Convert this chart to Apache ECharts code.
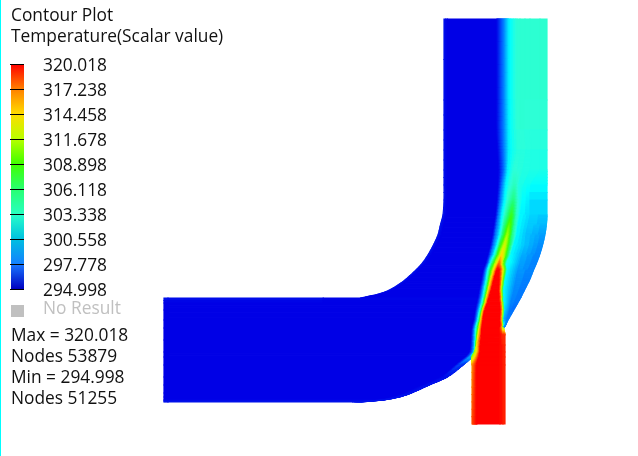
<!DOCTYPE html>
<html><head><meta charset="utf-8">
<style>html,body{margin:0;padding:0;background:#fff}#c{width:638px;height:456px}</style>
<script src="https://cdn.jsdelivr.net/npm/echarts@6/dist/echarts.min.js"></script>
</head><body><div id="c"></div>
<script>
const titleLines = ['Contour Plot', 'Temperature(Scalar value)'];
const tickLabels = ['294.998','297.778','300.558','303.338','306.118','308.898','311.678','314.458','317.238','320.018'];
const statLines = ['Max = 320.018','Nodes 53879','Min = 294.998','Nodes 51255'];
const noResultLabel = 'No Result';

// temperature -> colour
const scaleT = [294.998,297.778,300.558,302,303.338,306.118,308.898,311.678,314.458,317.238,320.018];
const scaleC = ['#0000e6','#0060ff','#00c8ff','#00ffff','#2dffd8','#20ff70','#40ff00','#b8ff00','#ffe000','#ff7000','#ff0000'];
// legend bar colours, bottom to top, in pairs per segment
const barC = ['#0000c0','#1878ff','#1480ff','#00c0e0','#00c0e0','#28ffc8','#28ffc0','#28ff70','#28ff70','#40ff00','#40ff00','#b8ff00','#b8ff00','#ffdc00','#ffdc00','#ff8000','#ff8000','#ff0000'];

// main duct: stations down the picture, 12 knots across each
const rowY = [19,100,130,150,170,185,200,215,225,235,245,255,263,270,280,285,290,294,297,298,298,303,310,320,328,340,352,357,365,377,385,393,397,400,402];
const rowX = [
[444,447.5,497,504,509,512,517,520,525,530,540,547],
[444,447.5,497,504,509,512,517,520,525,530,540,547],
[444,447.5,497,504,509,512,517,520,525,530,540,547],
[444,447.5,498,504,509,513,517,521,526,531,540,547],
[444,447.5,499,504,508,511,514,518,523,530,540,547],
[444,447.5,498.5,502,506,509,514,516,519,524,531,547],
[444,447.5,497.5,500.5,504.5,507.5,513,514.5,518.5,522.5,530,547],
[443,446.5,496,498.5,502,505.5,511,512.5,516.5,520.5,530,547],
[440.5,444,494.5,497,501,504,509,510.5,514.5,518.5,528,546.3],
[438,441.5,493,495.5,499.5,502.5,507,508.5,512.5,517,526,544.8],
[433.5,437,491,493.5,497,500,504.5,505.5,510,514,525,542.5],
[428,431.5,488.5,491,494,497.5,501.5,502.5,507,511,522,539.5],
[422.5,426,486.5,489.5,492,495.5,499,500.5,503.5,507,520,536.5],
[416,419.5,484,488,491,494,497,500,503.5,507.5,518,533.5],
[405,408.5,482,486.5,489,491,494,500,502.5,505.5,516,529.5],
[398,401.5,481,485.5,488,489.8,492.8,499.8,502,504.8,515,527],
[389.5,393,480,484.5,487,488.5,491.5,499.5,501.5,504,514,524.5],
[379,382.5,479.3,483.8,486,487.5,490.2,499.8,501.8,504,513,522.5],
[365,368.5,478.7,483.2,485.3,486.8,489.3,500,502,504,512.2,521],
[360,363.5,478.5,483,485,486.5,489,500,502,504,512,520.5],
[164,168,478.5,483,485,486.5,489,500,502,504,512,520.5],
[164,168,477.5,482,484,485.5,487.5,500.5,502.5,504.5,511,517.7],
[164,168,476,480,482,483,485,501,503,505,510,513.7],
[164,168,474.5,478,480,481,483,500.5,502.5,504,507,508],
[164,168,472.5,476,478,479.5,482,500,502,503,503.3,503.5],
[164,168,471.5,475.5,476.5,477.5,481,483,485,486,488,490],
[164,168,470,474,475,475.5,475.8,476,476.2,476.4,476.7,477],
[164,168,466,470,471,471.5,471.6,471.7,471.8,471.9,472,472],
[164,168,456,459,461,461.5,462,462.2,462.4,462.6,462.8,463],
[164,168,441,443,444,445,445.5,446,446.2,446.5,446.8,447],
[164,168,423,425,426,427,427.5,428,428.2,428.5,428.8,429],
[164,168,405,407,408,409,409.5,410,410.2,410.5,410.8,411],
[164,168,393,395,396,397,397.5,398,398.2,398.5,398.8,399],
[164,168,378,380,381,382,382.5,383,383.2,383.5,383.8,384],
[164,168,352,354,355,356,357,358,359,360,361,362]
];
const blueEdge = [295,295,295,295.2,295.3,295.4,295.5,295.5,295.5,295.5,295.5,295.5];
const rowT = [
[295.6,295,295,298.5,301.5,302.3,303.4,303.5,303.5,303.5,303.5,303.6],
[295.6,295,295,298.5,301.5,302.3,303.4,303.5,303.5,303.5,303.5,303.6],
[295.6,295,295,298.5,301.5,302.3,303.3,303.5,303.4,303.3,303.3,303.3],
[295.6,295,295,298.3,301.5,302.5,303,303.2,303,303,303,303],
[295.6,295,295,298,301.5,302.5,303.3,303.3,303,302.9,302.8,302.8],
[295.6,295,295,298,301.5,302.8,304,304,303,302.6,302.2,302],
[295.6,295,295,298,301.5,303.3,305.5,305.5,303.3,302.2,301.5,301],
[295.6,295,295,298,301.5,304,308,308,304,302,301,300.5],
[295.6,295,295,298,301.5,304.8,309.5,309.5,305,302,300.8,300],
[295.6,295,295,298,301.5,305.5,311,311,305.5,302,300.5,299.3],
[295.6,295,295,298,301.5,307,312.5,312.5,307,302,300.5,298.8],
[295.6,295,295,298,301.5,308,314.5,314.5,308,302,300,298.6],
[295.6,295,295,300,304.5,311,317,317,311,303,299.7,298.5],
[295.6,295,295,302,308,314,320,320,314,302,299.5,298.5],
[295.6,295,295,302,308,314,320,320,314,302,299.2,298.4],
[295.6,295,295,302,308,314,320,320,314,302,299.1,298.4],
[295.6,295,295,302,308,314,320,320,314,302,299,298.3],
[295.6,295,295,302,308,314,320,320,314,302,299,298.3],
[295.6,295,295,302,308,314,320,320,314,302,298.9,298.3],
[295.6,295,295,302,308,314,320,320,314,302,298.9,298.3],
[295.6,295.6,295,302,308,314,320,320,314,302,298.9,298.3],
[295,295,295,302,308,314,320,320,314,302,298.8,298.2],
[295,295,295,302,308,314,320,320,314,301,298.5,298],
[295,295,295,302,308,314,320,320,314,300,298.5,298.5],
[295,295,295,302,308,314,320,320,314,305,300,298.5],
[295,295,295,302,308,314,320,320,320,320,320,320],
[295,295,295,301,308,310,318,318,318,318,318,318],
[295,295,295,300,300,300,300,300,300,300,300,300],
[295,295,295,297,297,297,297,296.5,296.5,296.5,296.5,296.5],
blueEdge,blueEdge,blueEdge,blueEdge,blueEdge,
[295.6,295.6,295.6,295.6,295.6,295.6,295.6,295.6,295.6,295.6,295.6,295.6]
];

// side inlet: stations down the picture, 5 knots across
const jetY = [328,335,345,352,357,365,424];
const jetX = [
[482,482.5,500,503,503.5],
[481.5,482,500,503,505],
[477,480.5,500,503,505],
[474.5,480,500,503,505],
[472,479,500,503,505],
[472,477,500,503,505],
[472,477,500,503,505]
];
const jetT = [
[320,320,320,314,310],
[320,320,320,319,318.5],
[314,320,320,319.5,319],
[310,320,320,319.5,319],
[310,320,320,319.5,319],
[316,320,320,319.5,319],
[318,320,320,319.5,319]
];

function colorOf(t){
  if(t<=scaleT[0]) return scaleC[0];
  for(let i=1;i<scaleT.length;i++){
    if(t<=scaleT[i]){
      const f=(t-scaleT[i-1])/(scaleT[i]-scaleT[i-1]);
      return echarts.color.lerp(f,[scaleC[i-1],scaleC[i]]);
    }
  }
  return scaleC[scaleC.length-1];
}
function fieldSeries(y,X,T){
  const data=[];
  for(let r=0;r<y.length-1;r++) for(let j=0;j<X[0].length-1;j++) data.push([r,j]);
  // slope of a knot line along the duct, so walls and isotherms draw as curves
  const slope=(r,j)=>{
    const n=y.length-1;
    const back=r>0&&y[r-1]!==y[r], fwd=r<n&&y[r+1]!==y[r];
    if(back&&fwd) return (X[r+1][j]-X[r-1][j])/(y[r+1]-y[r-1]);
    if(fwd) return (X[r+1][j]-X[r][j])/(y[r+1]-y[r]);
    if(back) return (X[r][j]-X[r-1][j])/(y[r]-y[r-1]);
    return 0;
  };
  const xAt=(r,j,v)=>{
    const h=y[r+1]-y[r],x0=X[r][j],x1=X[r+1][j],m0=slope(r,j)*h,m1=slope(r+1,j)*h;
    const v2=v*v,v3=v2*v;
    return (2*v3-3*v2+1)*x0+(v3-2*v2+v)*m0+(-2*v3+3*v2)*x1+(v3-v2)*m1;
  };
  return {
    type:'custom',coordinateSystem:'cartesian2d',xAxisIndex:0,yAxisIndex:0,
    silent:true,animation:false,clip:false,progressive:0,
    encode:{x:[],y:[]},data,
    renderItem(params,api){
      const r=api.value(0),j=api.value(1);
      const y0=y[r],y1=y[r+1];
      if(y0===y1) return {type:'group',children:[]};
      const x00=X[r][j],x10=X[r][j+1],x01=X[r+1][j],x11=X[r+1][j+1];
      const t00=T[r][j],t10=T[r][j+1],t01=T[r+1][j],t11=T[r+1][j+1];
      const dU=Math.max(Math.abs(t10-t00),Math.abs(t11-t01));
      const dV=Math.max(Math.abs(t01-t00),Math.abs(t11-t10));
      const w=Math.max(x10-x00,x11-x01),h=y1-y0;
      const curved=Math.abs(x01-x00)>1||Math.abs(x11-x10)>1;
      const nu=Math.min(Math.max(1,Math.ceil(dU/0.5)),Math.max(1,Math.ceil(w*1.5)),24);
      const nv=Math.min(Math.max(curved?Math.ceil(h/1.5):1,Math.ceil(Math.max(dV,dU>0.5?dU:0)/0.5)),Math.max(1,Math.ceil(h*1.5)),30);
      const P=(u,v)=>api.coord([(1-u)*xAt(r,j,v)+u*xAt(r,j+1,v),y0+(y1-y0)*v]);
      const children=[];
      for(let a=0;a<nv;a++) for(let b=0;b<nu;b++){
        const u0=b/nu,u1=(b+1)/nu,v0=a/nv,v1=(a+1)/nv,um=(u0+u1)/2,vm=(v0+v1)/2;
        const tm=(1-vm)*((1-um)*t00+um*t10)+vm*((1-um)*t01+um*t11);
        const c=colorOf(tm);
        children.push({type:'polygon',shape:{points:[P(u0,v0),P(u1,v0),P(u1,v1),P(u0,v1)]},
          style:{fill:c,stroke:c,lineWidth:1.2}});
      }
      return {type:'group',children};
    }
  };
}

const font='"Open Sans"', fontPx=17.33;
const textEl=(s,x,y,color)=>({type:'text',x,y,silent:true,style:{text:s,fill:color,font:fontPx+'px '+font,textVerticalAlign:'middle',textBaseline:'middle'}});
const titleY=[16,37], statY=[336,357,378,399];

const chart=echarts.init(document.getElementById('c'),null,{renderer:'canvas'});
chart.setOption({
  animation:false,backgroundColor:'#ffffff',
  grid:[
    {left:0,right:0,top:0,bottom:0,containLabel:false},
    {left:10,width:14,top:64,height:225,containLabel:false},
    {left:10,width:14,top:66,height:225,containLabel:false}
  ],
  xAxis:[
    {type:'value',gridIndex:0,min:0,max:638,show:false},
    {type:'value',gridIndex:1,min:-1,max:13,show:false},
    {type:'value',gridIndex:2,min:-1,max:13,show:false}
  ],
  yAxis:[
    {type:'value',gridIndex:0,min:0,max:456,inverse:true,show:false},
    {type:'category',gridIndex:1,data:tickLabels,boundaryGap:false,position:'right',z:5,
     axisLine:{show:false},
     axisTick:{show:true,length:5,alignWithLabel:true,lineStyle:{color:'#000',width:1}},
     splitLine:{show:true,lineStyle:{color:'#000',width:1}},
     axisLabel:{show:false}},
    {type:'category',gridIndex:2,data:tickLabels,boundaryGap:false,position:'right',
     axisLine:{show:false},axisTick:{show:false},splitLine:{show:false},
     axisLabel:{show:true,interval:0,margin:19,color:'#111',fontFamily:font,fontSize:fontPx,verticalAlignMaxLabel:'middle',verticalAlignMinLabel:'middle'}}
  ],
  series:[
    fieldSeries(rowY,rowX,rowT),
    fieldSeries(jetY,jetX,jetT),
    {type:'custom',coordinateSystem:'cartesian2d',xAxisIndex:1,yAxisIndex:1,silent:true,z:1,
     encode:{x:[],y:[]},
     data:tickLabels.slice(0,-1).map((s,i)=>[i]),
     renderItem(p,api){
       const i=api.value(0);
       const a=api.coord([0,i]),b=api.coord([13,i+1]);
       return {type:'rect',shape:{x:a[0],y:b[1],width:b[0]-a[0],height:a[1]-b[1]},
         style:{fill:new echarts.graphic.LinearGradient(0,1,0,0,[{offset:0,color:barC[2*i]},{offset:1,color:barC[2*i+1]}])}};
     }}
  ],
  graphic:[
    {type:'rect',x:0,y:0,silent:true,shape:{width:1,height:456},style:{fill:'#00ffff'}},
    {type:'rect',x:11,y:305,silent:true,shape:{width:13,height:12},style:{fill:'#c0c0c0'}},
    ...titleLines.map((s,i)=>textEl(s,11,titleY[i],'#111')),
    textEl(noResultLabel,43,309,'#c0c0c0'),
    ...statLines.map((s,i)=>textEl(s,11,statY[i],'#111'))
  ]
});
</script></body></html>
